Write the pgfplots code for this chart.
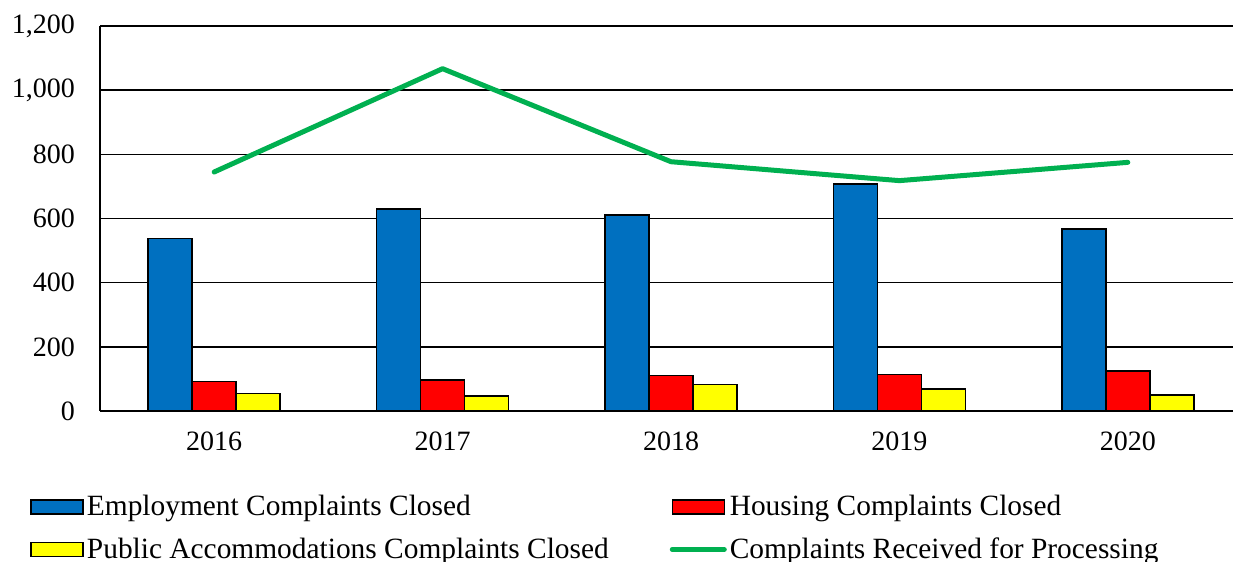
\documentclass[border=0pt]{standalone}
\usepackage{fontspec}
\setmainfont{Liberation Serif}
\usepackage{pgfplots}
\pgfplotsset{compat=1.18}

\definecolor{empblue}{HTML}{0070C0}
\definecolor{housred}{HTML}{FF0000}
\definecolor{pubyellow}{HTML}{FFFF00}
\definecolor{recgreen}{HTML}{00B050}

% years at 0..4: 2016 ... 2020
\pgfplotstableread{
x  emp  hous  pub  rec
0  537  92    54   745
1  630  96    47   1067
2  611  110   83   777
3  708  113   69   718
4  568  125   50   775
}\complaints

\pgfplotsset{
  barbox/.style={
    ybar, bar width=22pt, draw=black, line width=0.75pt,
    legend image code/.code={\draw[##1] (0pt,-3.5pt) rectangle (26pt,3.5pt);}
  },
  linekey/.style={
    legend image code/.code={\draw[##1] (0pt,0pt) -- (26pt,0pt);}
  },
}

\begin{document}
\begin{tikzpicture}
\begin{axis}[
  at={(0,0)}, anchor=south west,
  width=571pt, height=192.5pt, scale only axis,
  xmin=-0.5, xmax=4.5, ymin=0, ymax=1200,
  xtick={0,1,2,3,4}, xticklabels={2016,2017,2018,2019,2020},
  ytick={0,200,400,600,800,1000,1200},
  ymajorgrids, grid style={black, line width=0.8pt},
  axis x line*=bottom, axis y line*=left,
  axis line style={black, line width=0.8pt},
  major tick length=0pt,
  tick label style={font=\fontsize{14}{16}\selectfont},
  /pgf/number format/assume math mode=true,
  /pgf/number format/1000 sep={,},
  yticklabel style={xshift=-9pt},
  xticklabel style={yshift=-7pt},
  legend columns=2,
  legend cell align=left,
  legend style={
    draw=none, fill=none,
    at={(-0.0665,-0.197)}, anchor=north west,
    font=\fontsize{14.7}{16}\selectfont,
    nodes={inner xsep=1.5pt},
    /tikz/row sep=5.5pt,
    /tikz/every even column/.append style={column sep=29pt},
  },
]
\addplot[barbox, fill=empblue, bar shift=-22pt] table[x=x, y=emp] {\complaints};
\addlegendentry{Employment Complaints Closed}
\addplot[barbox, fill=housred, bar shift=0pt] table[x=x, y=hous] {\complaints};
\addlegendentry{Housing Complaints Closed}
\addplot[barbox, fill=pubyellow, bar shift=22pt] table[x=x, y=pub] {\complaints};
\addlegendentry{Public Accommodations Complaints Closed}
\addplot[recgreen, line width=2.5pt, line cap=round, line join=round, mark=none, linekey]
  table[x=x, y=rec] {\complaints};
\addlegendentry{Complaints Received for Processing}
\end{axis}
\pgfresetboundingbox
\path (-50pt,-75.5pt) rectangle (566.5pt,205.5pt);
\end{tikzpicture}
\end{document}
